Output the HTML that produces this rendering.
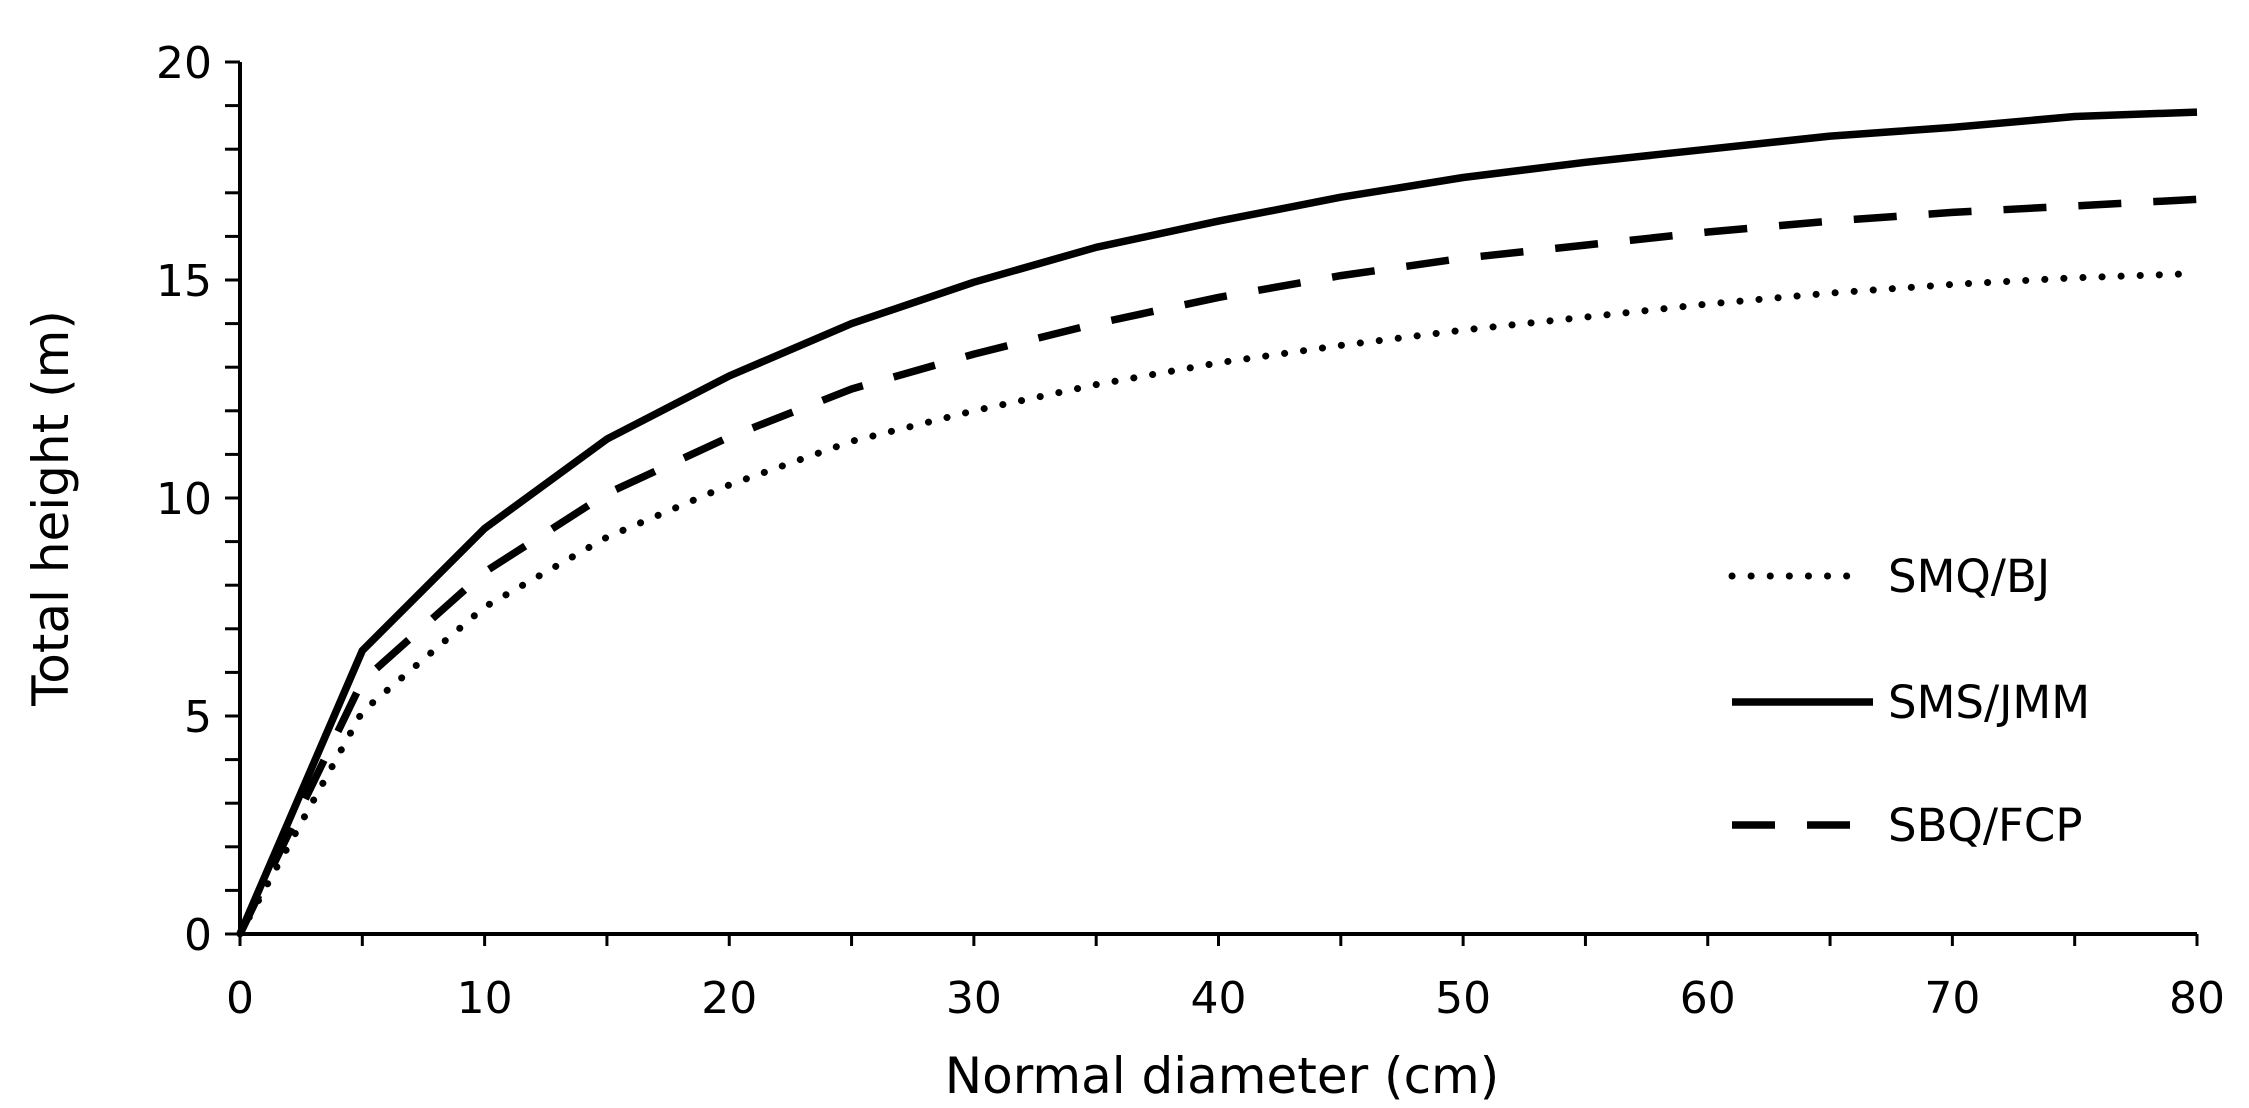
<!DOCTYPE html>
<html><head><meta charset="utf-8"><style>
html,body{margin:0;padding:0;background:#fff;}
svg{display:block;font-family:"DejaVu Sans","Liberation Sans",sans-serif;}
</style></head><body>
<svg id="chart" width="2249" height="1108" viewBox="0 0 2249 1108"></svg>
<script>
const diameters=[0,5,10,15,20,25,30,35,40,45,50,55,60,65,70,75,80];
const smqBJ=[0,5.1,7.5,9.1,10.3,11.3,12.0,12.6,13.1,13.5,13.85,14.15,14.45,14.7,14.9,15.05,15.15];
const smsJMM=[0,6.5,9.3,11.35,12.8,14.0,14.95,15.75,16.35,16.9,17.35,17.7,18.0,18.3,18.5,18.75,18.85];
const sbqFCP=[0,5.8,8.3,10.1,11.4,12.5,13.3,14.0,14.6,15.1,15.5,15.8,16.1,16.35,16.55,16.7,16.85];
const xTicks=[0,10,20,30,40,50,60,70,80];
const yTicks=[0,5,10,15,20];

const NS="http://www.w3.org/2000/svg";
const svg=document.getElementById('chart');
const X0=240,X1=2197,Y0=934,Y1=62;
const xs=v=>X0+(v/80)*(X1-X0);
const ys=v=>Y0-(v/20)*(Y0-Y1);
function mk(tag,attrs,parent){const e=document.createElementNS(NS,tag);for(const k in attrs)e.setAttribute(k,attrs[k]);(parent||svg).appendChild(e);return e;}

const series=[
 {name:'SMQ/BJ',vals:smqBJ,dash:'0.1 19',cap:'round',w:7,ly:576,key:'smq-bj'},
 {name:'SMS/JMM',vals:smsJMM,dash:'',cap:'butt',w:7.5,ly:702,key:'sms-jmm'},
 {name:'SBQ/FCP',vals:sbqFCP,dash:'43 32',cap:'butt',w:7.5,ly:825,key:'sbq-fcp'}
];
series.forEach(s=>{
 const d=s.vals.map((v,i)=>(i?'L':'M')+xs(diameters[i]).toFixed(1)+' '+ys(v).toFixed(1)).join(' ');
 const p=mk('path',{d:d,fill:'none',stroke:'#000','stroke-width':s.w,'stroke-dasharray':s.dash,'stroke-linecap':s.cap,'stroke-linejoin':'round'});
 
 
});

const ax=mk('line',{x1:X0,y1:Y0,x2:X1,y2:Y0,stroke:'#000','stroke-width':4});


const ay=mk('line',{x1:X0,y1:Y0+2,x2:X0,y2:Y1,stroke:'#000','stroke-width':4});


for(let v=0;v<=20;v++){
 const t=mk('line',{x1:X0-15,y1:ys(v),x2:X0,y2:ys(v),stroke:'#000','stroke-width':3});
 
 
}
for(let v=0;v<=80;v+=5){
 const t=mk('line',{x1:xs(v),y1:Y0,x2:xs(v),y2:Y0+12,stroke:'#000','stroke-width':3});
 
 
}
xTicks.forEach(v=>{
 const t=mk('text',{x:xs(v),y:1013,'text-anchor':'middle','font-size':44});
 t.textContent=v;
 
 
});
yTicks.forEach(v=>{
 const t=mk('text',{x:212,y:ys(v)+16,'text-anchor':'end','font-size':44});
 t.textContent=v;
 
 
});
const xt=mk('text',{x:1222,y:1093,'text-anchor':'middle','font-size':50});
xt.textContent='Normal diameter (cm)';


const yt=mk('text',{x:0,y:0,'text-anchor':'middle','font-size':50,transform:'translate(68,508) rotate(-90)'});
yt.textContent='Total height (m)';



series.forEach(s=>{
 const g=mk('g',{});
 
 
 mk('line',{x1:1732,y1:s.ly,x2:s.dash?1865:1873,y2:s.ly,stroke:'#000','stroke-width':s.w,'stroke-dasharray':s.dash,'stroke-linecap':s.cap},g);
 const t=mk('text',{x:1888,y:s.ly+16,'font-size':45},g);
 t.textContent=s.name;
});
</script>
</body></html>
